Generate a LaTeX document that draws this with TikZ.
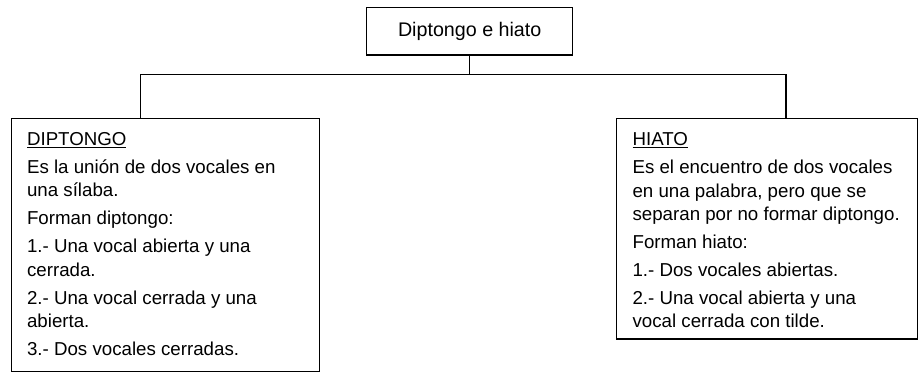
\documentclass[tikz,border=0pt]{standalone}
\usepackage{fontspec}
\setmainfont{Liberation Sans}
\usetikzlibrary{positioning}

\begin{document}
\begin{tikzpicture}[
  x=0.025cm,y=-0.025cm,
  font=\fontsize{13.3}{16.7}\selectfont,
  titlebox/.style={draw,line width=0.8pt,minimum width=5.16cm,minimum height=1.19cm,inner sep=0pt,font=\fontsize{14}{16}\selectfont},
  panel/.style={draw,line width=0.8pt,anchor=north west,inner xsep=0.4cm,inner ysep=0pt},
  conn/.style={line width=0.8pt}]
  \useasboundingbox (0,0) rectangle (918,372);
  \node[titlebox] (title) at (469.7,31.2) {Diptongo e hiato};
  \node[panel] (dip) at (10.5,117.7) {\parbox[t][6.33cm][t]{6.91cm}{\setlength{\parskip}{3.2pt}%
    \rule{0pt}{19.2pt}\underline{DIPTONGO}\par
    Es la unión de dos vocales en\\una sílaba.\par
    Forman diptongo:\par
    1.- Una vocal abierta y una\\cerrada.\par
    2.- Una vocal cerrada y una\\abierta.\par
    3.- Dos vocales cerradas.}};
  \node[panel] (hiato) at (616,118) {\parbox[t][5.51cm][t]{6.725cm}{\setlength{\parskip}{3.2pt}%
    \rule{0pt}{19.2pt}\underline{HIATO}\par
    Es el encuentro de dos vocales\\en una palabra, pero que se\\separan por no formar diptongo.\par
    Forman hiato:\par
    1.- Dos vocales abiertas.\par
    2.- Una vocal abierta y una\\vocal cerrada con tilde.}};
  \draw[conn] (title.south) -- ++(0,19) coordinate (fork);
  \draw[conn] (fork) -| ([xshift=3.26cm]dip.north west);
  \draw[conn] (fork) -| ([xshift=4.25cm]hiato.north west);
\end{tikzpicture}
\end{document}
